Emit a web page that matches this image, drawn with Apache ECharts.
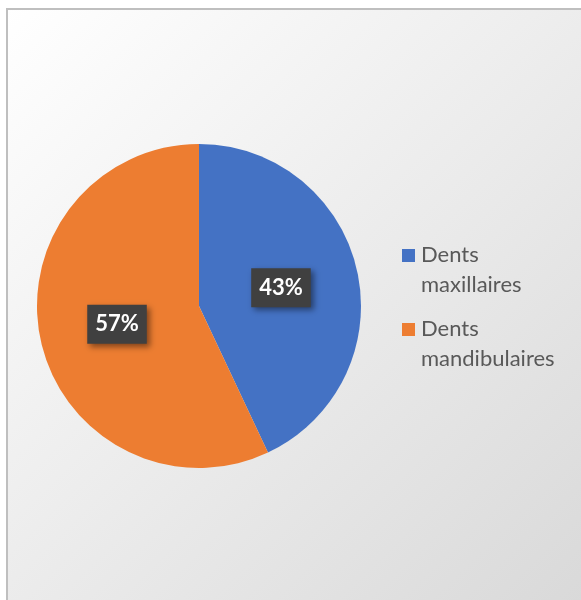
<!DOCTYPE html>
<html>
<head>
<meta charset="utf-8">
<style>
  html, body { margin: 0; padding: 0; background: #fff; }
  #chart { width: 581px; height: 600px; }
</style>
<script src="https://cdn.jsdelivr.net/npm/echarts@6/dist/echarts.min.js"></script>
</head>
<body>
<div id="chart"></div>
<script>
const categories = ['Dents maxillaires', 'Dents mandibulaires']
const values = [43, 57]
const colors = ['#4472C4', '#ED7D31']

const chart = echarts.init(document.getElementById('chart'))

const data = categories.map((name, i) => ({
  name: name,
  value: values[i],
  itemStyle: { color: colors[i] }
}))

// square marker sitting on the first text line
const legendIcon = 'path://M0,0L0.01,0M0,9H13V22H0Z M0,60L0.01,60'

const option = {
  backgroundColor: '#ffffff',
  graphic: [{
    type: 'rect',
    z: -10,
    silent: true,
    shape: { x: 7, y: 9, width: 620, height: 640 },
    style: {
      fill: new echarts.graphic.LinearGradient(0, 0, 1, 1, [
        { offset: 0, color: '#ffffff' },
        { offset: 1, color: '#d6d6d6' }
      ]),
      stroke: '#bfbfbf',
      lineWidth: 2
    }
  }],
  legend: {
    orient: 'vertical',
    left: 402,
    top: 240,
    padding: 0,
    itemWidth: 13,
    itemHeight: 60,
    itemGap: 14,
    icon: legendIcon,
    itemStyle: { borderWidth: 0 },
    formatter: name => name.replace(' ', '\n'),
    textStyle: {
      fontFamily: 'Lato',
      fontSize: 22,
      lineHeight: 30,
      color: '#595959',
      padding: [0, 0, 0, 1]
    },
    selectedMode: false
  },
  series: [{
    type: 'pie',
    center: [199, 306],
    radius: [0, 162],
    startAngle: 90,
    clockwise: true,
    silent: true,
    itemStyle: { borderWidth: 0 },
    label: {
      show: true,
      position: 'inside',
      formatter: p => Math.round(p.percent) + '%',
      fontFamily: 'Lato',
      fontWeight: 'bold',
      fontSize: 22,
      color: '#ffffff',
      backgroundColor: '#404040',
      padding: [9, 8, 8, 8],
      shadowColor: 'rgba(0,0,0,0.45)',
      shadowBlur: 6,
      shadowOffsetX: 3,
      shadowOffsetY: 3
    },
    labelLine: { show: false },
    data: data
  }]
}
chart.setOption(option)
</script>
</body>
</html>
